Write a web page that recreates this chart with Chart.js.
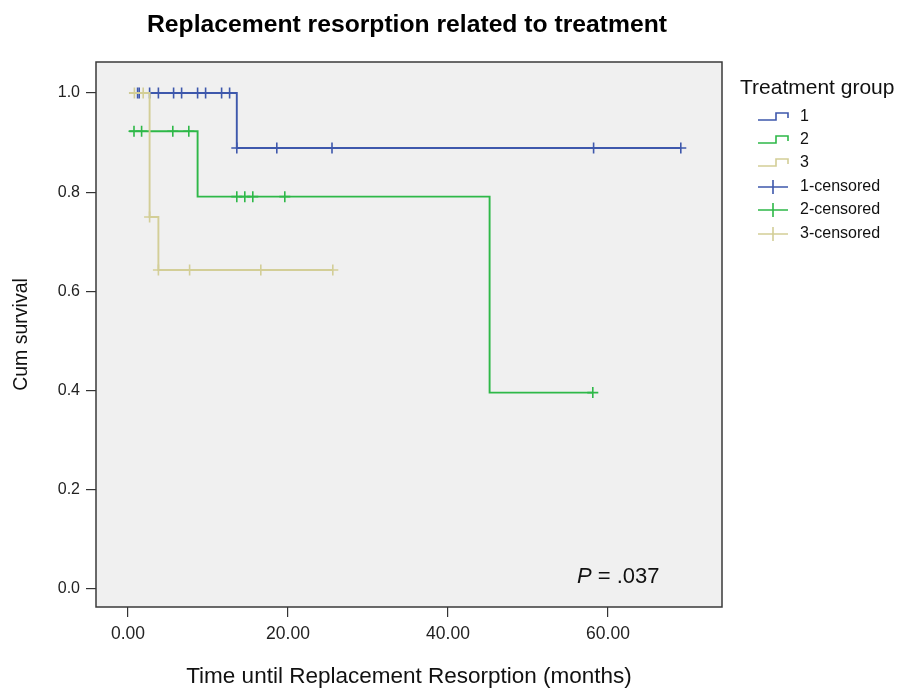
<!DOCTYPE html>
<html>
<head>
<meta charset="utf-8">
<script src="https://cdn.jsdelivr.net/npm/chart.js@4.4.1/dist/chart.umd.min.js"></script>
<style>
  html, body { margin: 0; padding: 0; background: #ffffff; }
  #wrap { width: 900px; height: 691px; position: relative; }
</style>
</head>
<body>
<div id="wrap"><canvas id="c" width="900" height="691"></canvas></div>
<script>
// ---- Data ----
const groupLabels = ['1', '2', '3'];
const censorLabels = ['1-censored', '2-censored', '3-censored'];
const groupColors = ['#3E58AC', '#2EB848', '#D3CE97'];

// Step curves: time (months) and cumulative survival after that time
const g1Times = [0.15, 13.6, 69.1];
const g1Surv  = [1.0, 0.889, 0.889];
const g2Times = [0.15, 8.7, 45.2, 58.1];
const g2Surv  = [0.923, 0.791, 0.396, 0.396];
const g3Times = [0.15, 2.7, 3.8, 25.6];
const g3Surv  = [1.0, 0.75, 0.643, 0.643];

// Censored observations
const c1Times = [1.2, 1.4, 2.7, 3.8, 5.7, 6.7, 8.7, 9.7, 11.7, 12.7, 13.6, 18.6, 25.5, 58.2, 69.1];
const c1Surv  = [1, 1, 1, 1, 1, 1, 1, 1, 1, 1, 0.889, 0.889, 0.889, 0.889, 0.889];
const c2Times = [0.75, 1.7, 5.6, 7.6, 13.6, 14.6, 15.6, 19.6, 58.1];
const c2Surv  = [0.923, 0.923, 0.923, 0.923, 0.791, 0.791, 0.791, 0.791, 0.396];
const c3Times = [0.8, 1.9, 2.7, 3.8, 7.7, 16.6, 25.6];
const c3Surv  = [1, 1, 0.75, 0.643, 0.643, 0.643, 0.643];

const xTicks = [0, 20, 40, 60];
const yTicks = [0, 0.2, 0.4, 0.6, 0.8, 1.0];

const titleText = 'Replacement resorption related to treatment';
const xTitle = 'Time until Replacement Resorption (months)';
const yTitle = 'Cum survival';
const legendTitle = 'Treatment group';
const pText = ' = .037';

// ---- Build datasets ----
const toPts = (t, s) => t.map((v, i) => ({ x: v, y: s[i] }));
const curves = [[g1Times, g1Surv], [g2Times, g2Surv], [g3Times, g3Surv]];
const censors = [[c1Times, c1Surv], [c2Times, c2Surv], [c3Times, c3Surv]];

const datasets = [];
curves.forEach((c, i) => {
  datasets.push({
    label: groupLabels[i],
    type: 'line',
    data: toPts(c[0], c[1]),
    borderColor: groupColors[i],
    backgroundColor: groupColors[i],
    borderWidth: 1.9,
    stepped: 'before',
    pointRadius: 0,
    fill: false,
    order: 10 - 2 * i
  });
});
censors.forEach((c, i) => {
  datasets.push({
    label: censorLabels[i],
    type: 'line',
    data: toPts(c[0], c[1]),
    showLine: false,
    borderColor: groupColors[i],
    backgroundColor: groupColors[i],
    pointStyle: 'cross',
    pointRadius: 5.5,
    pointBorderWidth: 1.6,
    pointHoverRadius: 5.5,
    order: 9 - 2 * i
  });
});

const FONT = '"Liberation Sans", Arial, sans-serif';

// ---- Plugins ----
const bgPlugin = {
  id: 'plotBg',
  beforeDraw(chart) {
    const { ctx, chartArea: a } = chart;
    ctx.save();
    ctx.fillStyle = '#F0F0F0';
    ctx.fillRect(a.left, a.top, a.right - a.left, a.bottom - a.top);
    ctx.restore();
  },
  afterDraw(chart) {
    const { ctx, chartArea: a } = chart;
    ctx.save();
    ctx.strokeStyle = '#3a3a3a';
    ctx.lineWidth = 1.5;
    ctx.strokeRect(a.left, a.top, a.right - a.left, a.bottom - a.top);

    // Main title centred over plot area
    ctx.fillStyle = '#000';
    ctx.textBaseline = 'middle';
    ctx.textAlign = 'center';
    ctx.font = 'bold 24.7px ' + FONT;
    ctx.fillText(titleText, 407, 25);

    // P value annotation
    ctx.textAlign = 'left';
    ctx.fillStyle = '#111';
    ctx.font = 'italic 22px ' + FONT;
    const px = 577, py = 577;
    ctx.fillText('P', px, py);
    const pw = ctx.measureText('P').width;
    ctx.font = '22px ' + FONT;
    ctx.fillText(pText, px + pw, py);

    // Legend
    ctx.fillStyle = '#111';
    ctx.font = '21px ' + FONT;
    ctx.fillText(legendTitle, 740, 88);
    ctx.font = '16px ' + FONT;
    const rowY = [117, 140, 163, 187, 210, 234];
    const x0 = 758, x1 = 788;
    ctx.lineWidth = 1.6;
    for (let i = 0; i < 3; i++) {
      const y = rowY[i];
      ctx.strokeStyle = groupColors[i];
      ctx.beginPath();
      ctx.moveTo(x0, y + 3);
      ctx.lineTo(x0 + 18, y + 3);
      ctx.lineTo(x0 + 18, y - 4);
      ctx.lineTo(x1, y - 4);
      ctx.lineTo(x1, y + 1);
      ctx.stroke();
      ctx.fillStyle = '#111';
      ctx.fillText(groupLabels[i], 800, y);
    }
    for (let i = 0; i < 3; i++) {
      const y = rowY[i + 3];
      ctx.strokeStyle = groupColors[i];
      ctx.beginPath();
      ctx.moveTo(x0, y);
      ctx.lineTo(x1, y);
      ctx.moveTo((x0 + x1) / 2, y - 7);
      ctx.lineTo((x0 + x1) / 2, y + 7);
      ctx.stroke();
      ctx.fillStyle = '#111';
      ctx.fillText(censorLabels[i], 800, y);
    }
    ctx.restore();
  }
};

new Chart(document.getElementById('c'), {
  type: 'line',
  data: { datasets },
  options: {
    responsive: false,
    animation: false,
    devicePixelRatio: 1,
    layout: { padding: { left: 0, right: 178, top: 62, bottom: 0 } },
    plugins: {
      legend: { display: false },
      tooltip: { enabled: false },
      title: { display: false }
    },
    scales: {
      x: {
        type: 'linear',
        min: -4.0,
        max: 74.25,
        afterFit(s) { s.height = 84; },
        afterBuildTicks(s) { s.ticks = xTicks.map(v => ({ value: v })); },
        grid: { drawOnChartArea: false, drawTicks: true, tickLength: 10, color: '#333', lineWidth: 1.2 },
        border: { display: false },
        ticks: {
          color: '#222',
          padding: 7,
          maxRotation: 0,
          font: { family: FONT, size: 17.5 },
          callback: v => Number(v).toFixed(2)
        },
        title: {
          display: true,
          text: xTitle,
          color: '#111',
          font: { family: FONT, size: 22.5 },
          padding: { top: 0, bottom: 1 }
        }
      },
      y: {
        type: 'linear',
        min: -0.0363,
        max: 1.0625,
        afterFit(s) { s.width = 96; },
        afterBuildTicks(s) { s.ticks = yTicks.map(v => ({ value: v })); },
        grid: { drawOnChartArea: false, drawTicks: true, tickLength: 10, color: '#333', lineWidth: 1.2 },
        border: { display: false },
        ticks: {
          color: '#222',
          padding: 6,
          font: { family: FONT, size: 16 },
          callback: v => Number(v).toFixed(1)
        },
        title: {
          display: true,
          text: yTitle,
          color: '#111',
          font: { family: FONT, size: 19.5 },
          padding: { top: 10, bottom: 0 }
        }
      }
    }
  },
  plugins: [bgPlugin]
});
</script>
</body>
</html>
